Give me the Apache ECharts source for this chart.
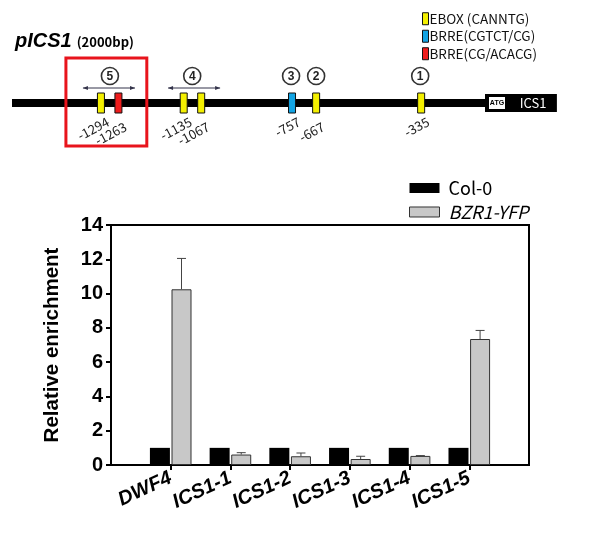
<!DOCTYPE html>
<html>
<head>
<meta charset="utf-8">
<script src="https://cdn.jsdelivr.net/npm/echarts@6/dist/echarts.min.js"></script>
<style>html,body{margin:0;padding:0;background:#fff}#c{width:609px;height:543px}</style>
</head>
<body>
<div id="c"></div>
<script>
// ---- bar chart data ----
const categories = ['DWF4', 'ICS1-1', 'ICS1-2', 'ICS1-3', 'ICS1-4', 'ICS1-5'];
const col0 = [1, 1, 1, 1, 1, 1];
const bzr1 = [10.25, 0.61, 0.51, 0.35, 0.53, 7.35];
const bzr1Err = [1.8, 0.11, 0.19, 0.16, 0.02, 0.5];
const yTicks = [0, 2, 4, 6, 8, 10, 12, 14];

// ---- promoter schematic data (map units along the drawn promoter line, 0..100) ----
const siteTypes = ['EBOX (CANNTG)', 'BRRE(CGTCT/CG)', 'BRRE(CG/ACACG)'];
const siteBp = [-1294, -1263, -1135, -1067, -757, -667, -335];
const siteType = [0, 2, 0, 0, 1, 0, 0];
const siteMap = [18.8, 22.5, 36.3, 40.0, 59.2, 64.3, 86.5];
const regionNum = [5, 4, 3, 2, 1];
const regionMap = [20.7, 38.1, 59.0, 64.3, 86.3];
const regionStart = [15.0, 33.0, null, null, null];
const regionEnd = [26.0, 44.0, null, null, null];
const highlightSpan = [11.4, 28.5];
const promoterSpan = [0, 100];
const geneSpan = [100, 115.2];

const siteColors = ['#f4f000', '#12a4e4', '#ee1c1c'];
const BAR_W = 20, BAR_GAP = 0.08;

const chart = echarts.init(document.getElementById('c'));

const siteSeries = siteTypes.map((t, k) => ({
  type: 'custom', name: t, xAxisIndex: 1, yAxisIndex: 1, z: 5,
  itemStyle: { color: siteColors[k] },
  data: siteBp.map((bp, i) => ({ i, v: [siteMap[i], bp] })).filter(d => siteType[d.i] === k).map(d => d.v),
  renderItem: function (params, api) {
    const p = api.coord([api.value(0), 0.5]);
    const idx = siteBp.indexOf(api.value(1));
    const prevClose = idx > 0 && (siteMap[idx] - siteMap[idx - 1]) < 6;
    const dy = prevClose ? 5 : 0;
    return {
      type: 'group', children: [
        { type: 'rect', shape: { x: p[0] - 3.5, y: p[1] - 10, width: 7, height: 20 },
          style: { fill: siteColors[k], stroke: '#111', lineWidth: 1 } },
        { type: 'text', x: p[0] + 4, y: p[1] + 12 + dy, rotation: 28 * Math.PI / 180,
          style: { text: String(api.value(1)), fill: '#222', font: '13px "Noto Sans CJK KR", sans-serif',
            align: 'right', verticalAlign: 'top' } }
      ]
    };
  }
}));

const option = {
  animation: false,
  title: {
    text: '{a|pICS1} {b|(2000bp)}', left: 10, top: 26,
    textStyle: { rich: {
      a: { fontSize: 20, fontWeight: 'bold', fontStyle: 'italic', fontFamily: 'Liberation Sans', color: '#000' },
      b: { fontSize: 13, fontWeight: 'bold', fontFamily: 'Noto Sans CJK KR', color: '#000', padding: [3, 0, 0, 0] }
    } }
  },
  legend: [
    { orient: 'vertical', left: 404, top: 174, itemWidth: 30, itemHeight: 10, itemGap: 6,
      data: [
        { name: 'Col-0', icon: 'rect', itemStyle: { color: '#000', borderWidth: 0 } },
        { name: 'BZR1-YFP', icon: 'rect', itemStyle: { color: '#c8c8c8', borderColor: '#333', borderWidth: 1 },
          textStyle: { fontStyle: 'italic' } }
      ],
      textStyle: { fontSize: 18, lineHeight: 17, color: '#000', fontFamily: '"Noto Sans CJK KR", sans-serif', padding: [0, 0, 0, 4] } },
    { orient: 'vertical', left: 417, top: 7, itemWidth: 6, itemHeight: 12, itemGap: 4,
      data: siteTypes.map((t, k) => ({ name: t, icon: 'rect', itemStyle: { color: siteColors[k], borderColor: '#111', borderWidth: 1 } })),
      textStyle: { fontSize: 13.5, lineHeight: 12, color: '#111', fontFamily: '"Noto Sans CJK KR", sans-serif', padding: [0, 0, 0, -4] } }
  ],
  grid: [
    { left: 111, top: 225, width: 418, height: 240, show: true, borderColor: '#000', borderWidth: 2, containLabel: false },
    { left: 12, top: 93, width: 473, height: 20, containLabel: false }
  ],
  xAxis: [
    { type: 'category', gridIndex: 0, boundaryGap: false, data: [''].concat(categories, ['']),
      axisLine: { lineStyle: { color: '#000', width: 2 } },
      axisTick: { show: true, length: 5, interval: (i) => i > 0 && i < categories.length + 1, lineStyle: { color: '#000', width: 2 } },
      axisLabel: { rotate: 25, margin: 12, interval: 0, color: '#000', fontSize: 20, fontWeight: 'bold', fontStyle: 'italic', fontFamily: 'Liberation Sans' } },
    { type: 'value', gridIndex: 1, min: 0, max: 100, show: false }
  ],
  yAxis: [
    { type: 'value', gridIndex: 0, min: 0, max: 14, interval: 2,
      name: 'Relative enrichment', nameLocation: 'middle', nameGap: 48,
      nameTextStyle: { fontSize: 20.5, fontWeight: 'bold', fontFamily: 'Liberation Sans', color: '#000' },
      axisLine: { show: true, lineStyle: { color: '#000', width: 2 } },
      axisTick: { show: true, length: 5, lineStyle: { color: '#000', width: 2 } },
      splitLine: { show: false },
      axisLabel: { margin: 8, color: '#000', fontSize: 20, fontWeight: 'bold', fontFamily: 'Liberation Sans',
        formatter: (v) => yTicks.indexOf(v) >= 0 ? String(v) : '' } },
    { type: 'value', gridIndex: 1, min: 0, max: 1, show: false }
  ],
  series: [
    { type: 'bar', name: 'Col-0', barWidth: BAR_W, barGap: (BAR_GAP * 100) + '%',
      itemStyle: { color: '#000' }, data: ['-'].concat(col0, ['-']) },
    { type: 'bar', name: 'BZR1-YFP', barWidth: BAR_W,
      itemStyle: { color: '#c8c8c8', borderColor: '#333', borderWidth: 1 }, data: ['-'].concat(bzr1, ['-']) },
    { type: 'custom', name: 'err', z: 10, silent: true,
      data: categories.map((c, i) => [i + 1, bzr1[i], bzr1[i] + bzr1Err[i]]),
      renderItem: function (params, api) {
        const off = (BAR_W + BAR_W * BAR_GAP) / 2;
        const base = api.coord([api.value(0), api.value(1)]);
        const top = api.coord([api.value(0), api.value(2)]);
        const x = base[0] + off;
        return { type: 'group', children: [
          { type: 'line', shape: { x1: x, y1: base[1], x2: x, y2: top[1] }, style: { stroke: '#444', lineWidth: 1 } },
          { type: 'line', shape: { x1: x - 4.5, y1: top[1], x2: x + 4.5, y2: top[1] }, style: { stroke: '#444', lineWidth: 1 } }
        ] };
      } },
    // promoter backbone and gene box
    { type: 'custom', name: 'promoter', xAxisIndex: 1, yAxisIndex: 1, z: 2, silent: true,
      data: [[promoterSpan[0], promoterSpan[1], geneSpan[0], geneSpan[1]]],
      renderItem: function (params, api) {
        const a = api.coord([api.value(0), 0.5]);
        const b = api.coord([api.value(1), 0.5]);
        const g0 = api.coord([api.value(2), 0.5]);
        const g1 = api.coord([api.value(3), 0.5]);
        return { type: 'group', children: [
          { type: 'rect', shape: { x: a[0], y: a[1] - 4, width: b[0] - a[0], height: 8 }, style: { fill: '#000' } },
          { type: 'rect', shape: { x: g0[0], y: g0[1] - 9, width: g1[0] - g0[0], height: 18 }, style: { fill: '#000' } },
          { type: 'rect', shape: { x: g0[0] + 4, y: g0[1] - 6, width: 16, height: 12 }, style: { fill: '#fff' } },
          { type: 'text', x: g0[0] + 12, y: g0[1], style: { text: 'ATG', fill: '#000', font: 'bold 7px "Liberation Sans"', align: 'center', verticalAlign: 'middle' } },
          { type: 'text', x: g0[0] + 48, y: g0[1], style: { text: 'ICS1', fill: '#fff', font: '13px "Noto Sans CJK KR", sans-serif', align: 'center', verticalAlign: 'middle' } }
        ] };
      } },
    // regions (circled numbers and spans)
    { type: 'custom', name: 'regions', xAxisIndex: 1, yAxisIndex: 1, z: 4, silent: true,
      data: regionNum.map((n, i) => [regionMap[i], regionStart[i] == null ? regionMap[i] : regionStart[i], regionEnd[i] == null ? regionMap[i] : regionEnd[i], n]),
      renderItem: function (params, api) {
        const c = api.coord([api.value(0), 0.5]);
        const s = api.coord([api.value(1), 0.5]);
        const e = api.coord([api.value(2), 0.5]);
        const cy = c[1] - 27, ay = c[1] - 15;
        const ch = [
          { type: 'circle', shape: { cx: c[0], cy: cy, r: 8.5 }, style: { fill: '#fff', stroke: '#333', lineWidth: 1.6 } },
          { type: 'text', x: c[0], y: cy + 0.5, style: { text: String(api.value(3)), fill: '#222', font: 'bold 12px "Liberation Sans"', align: 'center', verticalAlign: 'middle' } }
        ];
        if (e[0] - s[0] > 1) {
          ch.push({ type: 'line', shape: { x1: s[0], y1: ay, x2: e[0], y2: ay }, style: { stroke: '#33334a', lineWidth: 1 } });
          ch.push({ type: 'polygon', shape: { points: [[s[0], ay], [s[0] + 5, ay - 2], [s[0] + 5, ay + 2]] }, style: { fill: '#33334a' } });
          ch.push({ type: 'polygon', shape: { points: [[e[0], ay], [e[0] - 5, ay - 2], [e[0] - 5, ay + 2]] }, style: { fill: '#33334a' } });
        }
        return { type: 'group', children: ch };
      } },
    // highlighted region frame
    { type: 'custom', name: 'highlight', xAxisIndex: 1, yAxisIndex: 1, z: 6, silent: true,
      data: [[highlightSpan[0], highlightSpan[1]]],
      renderItem: function (params, api) {
        const a = api.coord([api.value(0), 0.5]);
        const b = api.coord([api.value(1), 0.5]);
        return { type: 'rect', shape: { x: a[0], y: a[1] - 45, width: b[0] - a[0], height: 88 },
          style: { fill: 'none', stroke: '#e8141c', lineWidth: 3 } };
      } }
  ].concat(siteSeries)
};
chart.setOption(option);
</script>
</body>
</html>
